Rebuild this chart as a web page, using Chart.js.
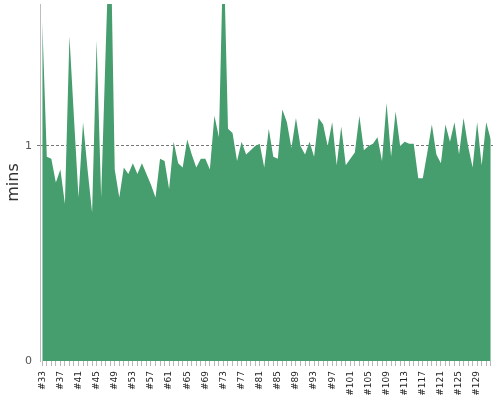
<!DOCTYPE html>
<html>
<head>
<meta charset="utf-8">
<script src="https://cdn.jsdelivr.net/npm/chart.js@4"></script>
<style>
  html, body { margin: 0; padding: 0; background: #fff; }
  #wrap { width: 500px; height: 400px; }
</style>
</head>
<body>
<div id="wrap"><canvas id="chart" width="500" height="400"></canvas></div>
<script>
// run labels along the x axis
const runs = [
  '#33','#34','#35','#36','#37','#38','#39','#40','#41','#42',
  '#43','#44','#45','#46','#47','#48','#49','#50','#51','#52',
  '#53','#54','#55','#56','#57','#58','#59','#60','#61','#62',
  '#63','#64','#65','#66','#67','#68','#69','#70','#71','#72',
  '#73','#74','#75','#76','#77','#78','#79','#80','#81','#82',
  '#83','#84','#85','#86','#87','#88','#89','#90','#91','#92',
  '#93','#94','#95','#96','#97','#98','#99','#100','#101','#102',
  '#103','#104','#105','#106','#107','#108','#109','#110','#111','#112',
  '#113','#114','#115','#116','#117','#118','#119','#120','#121','#122',
  '#123','#124','#125','#126','#127','#128','#129','#130','#131','#132'
];

// duration of each run, in minutes
const durations = [
  1.58, 0.95, 0.94, 0.83, 0.89, 0.73, 1.51, 1.13, 0.76, 1.11,
  0.89, 0.69, 1.49, 0.76, 1.45, 2.10, 0.89, 0.76, 0.90, 0.87,
  0.92, 0.87, 0.92, 0.87, 0.82, 0.76, 0.94, 0.93, 0.80, 1.02,
  0.92, 0.90, 1.03, 0.96, 0.90, 0.94, 0.94, 0.89, 1.14, 1.04,
  1.95, 1.08, 1.06, 0.93, 1.02, 0.96, 0.98, 1.00, 1.01, 0.90,
  1.08, 0.95, 0.94, 1.17, 1.11, 0.99, 1.13, 1.00, 0.96, 1.02,
  0.95, 1.13, 1.10, 1.00, 1.11, 0.91, 1.09, 0.91, 0.94, 0.97,
  1.14, 0.98, 1.00, 1.01, 1.04, 0.93, 1.20, 0.95, 1.16, 1.00,
  1.02, 1.01, 1.01, 0.85, 0.85, 0.97, 1.10, 0.96, 0.92, 1.10,
  1.02, 1.11, 0.96, 1.13, 1.00, 0.90, 1.11, 0.91, 1.11, 1.03
];

const yTicks = [0, 1];
const yMax = 1.66;
const labelEvery = 4;

const green = 'rgb(70, 157, 109)';

function noPadding(scale) {
  scale.paddingTop = 0;
  scale.paddingBottom = 0;
  scale.paddingLeft = 0;
  scale.paddingRight = 0;
}

const ctx = document.getElementById('chart').getContext('2d');
new Chart(ctx, {
  type: 'line',
  data: {
    labels: runs,
    datasets: [{
      label: 'mins',
      data: durations,
      fill: 'origin',
      backgroundColor: green,
      borderColor: green,
      borderWidth: 0,
      pointRadius: 0,
      tension: 0
    }]
  },
  options: {
    responsive: false,
    animation: false,
    devicePixelRatio: 1,
    layout: { padding: { top: 4, right: 7, bottom: 0, left: 0 } },
    plugins: {
      legend: { display: false },
      tooltip: { enabled: false }
    },
    scales: {
      x: {
        type: 'category',
        offset: true,
        border: { display: false },
        grid: {
          drawOnChartArea: false,
          drawTicks: true,
          tickLength: 5,
          color: '#b8b8b8'
        },
        ticks: {
          autoSkip: false,
          minRotation: 90,
          maxRotation: 90,
          padding: 5,
          color: '#222',
          font: { family: 'DejaVu Sans', size: 9 },
          callback: function(val, idx) {
            return idx % labelEvery === 0 ? runs[idx] : '';
          }
        },
        afterFit: function(scale) {
          scale.height = 39;
          noPadding(scale);
        }
      },
      y: {
        min: 0,
        max: yMax,
        border: { display: true, color: '#bdbdbd', width: 1, dash: [3, 2] },
        grid: {
          drawTicks: true,
          tickLength: 3,
          color: function(c) { return c.tick && c.tick.value === 1 ? '#777' : 'rgba(0,0,0,0)'; }
        },
        afterBuildTicks: function(scale) {
          scale.ticks = yTicks.map(v => ({ value: v }));
        },
        ticks: {
          padding: 5,
          color: '#555',
          font: { family: 'DejaVu Sans', size: 11 }
        },
        title: {
          display: true,
          text: 'mins',
          color: '#333',
          font: { family: 'DejaVu Sans', size: 16 },
          padding: { top: 4, bottom: 0 }
        },
        afterFit: function(scale) {
          scale.width = 40;
          noPadding(scale);
        }
      }
    }
  }
});
</script>
</body>
</html>
